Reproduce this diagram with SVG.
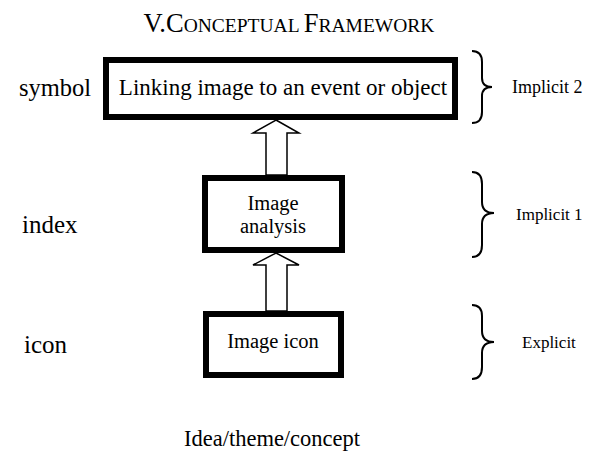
<svg xmlns="http://www.w3.org/2000/svg" width="597" height="454" viewBox="0 0 597 454" font-family="'Liberation Serif', 'Times New Roman', serif">
<style>
text{font-family:"Liberation Serif","Times New Roman",serif;fill:#000}
.box{fill:#fff;stroke:#000;stroke-width:6}
.arr{fill:#fff;stroke:#000;stroke-width:1.5;stroke-linejoin:miter}
.brace{fill:none;stroke:#000;stroke-width:2}
.lvl{font-family:"Liberation Serif",serif;font-size:25px}
.in{font-family:"Liberation Serif",serif;font-size:20.5px;text-anchor:middle}
.side{font-family:"Liberation Serif",serif;font-size:18px}
</style>
<rect width="597" height="454" fill="#fff"/>
<text x="289" y="32" text-anchor="middle" font-family="'Liberation Serif', serif" font-size="26.5">V.C<tspan font-size="19.5">ONCEPTUAL </tspan>F<tspan font-size="19.5">RAMEWORK</tspan></text>
<g id="connectors">
<polygon class="arr" points="276,120 299,133 287,133 287,175 266,175 266,133 253,133"/>
<polygon class="arr" points="276,253 299,265 287,265 287,311 266,311 266,265 253,265"/>
</g>
<g id="symbol-node">
<text class="lvl" x="19" y="96" style="font-size:24.5px">symbol</text>
<rect class="box" x="106" y="60" width="349" height="57"/>
<text class="in" x="283" y="95" style="font-size:23px">Linking image to an event or object</text>
</g>
<g id="index-node">
<text class="lvl" x="22" y="233">index</text>
<rect class="box" x="205" y="178" width="137" height="72"/>
<text class="in" x="273" y="210">Image</text>
<text class="in" x="273" y="233">analysis</text>
</g>
<g id="icon-node">
<text class="lvl" x="24" y="353">icon</text>
<rect class="box" x="206" y="314" width="135" height="61"/>
<text class="in" x="273" y="348">Image icon</text>
</g>
<g id="implicit2">
<path class="brace" d="M472,51 Q482,51 482,62 L482,78 Q482,87 492,87 Q482,87 482,96 L482,112 Q482,123 472,123"/>
<text class="side" x="512" y="93">Implicit 2</text>
</g>
<g id="implicit1">
<path class="brace" d="M472,172 Q482,172 482,184 L482,202 Q482,213 494,213 Q482,213 482,224 L482,245 Q482,257 472,257"/>
<text class="side" x="516" y="220" style="font-size:17px">Implicit 1</text>
</g>
<g id="explicit">
<path class="brace" d="M472,305 Q482,305 482,316 L482,331 Q482,342 494,342 Q482,342 482,353 L482,367 Q482,379 472,379"/>
<text class="side" x="522" y="348" style="font-size:17px">Explicit</text>
</g>
<text x="272" y="446" text-anchor="middle" font-size="22.5">Idea/theme/concept</text>
</svg>
